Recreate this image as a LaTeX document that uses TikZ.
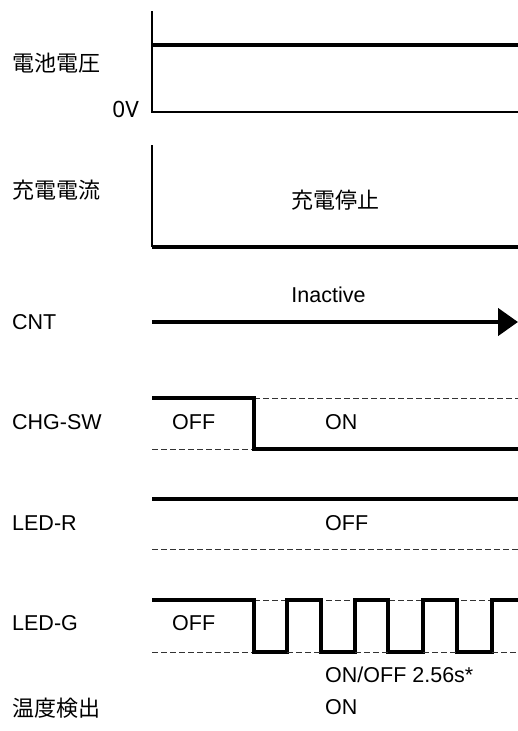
\documentclass[tikz,border=0pt]{standalone}
\usepackage{fontspec}
\setmainfont{Liberation Sans}
\newfontfamily\jp{Noto Sans CJK JP}
\newfontfamily\nsans{Noto Sans}
\usetikzlibrary{arrows.meta}
\begin{document}
\begin{tikzpicture}[x=1pt,y=-1pt,
  lbl/.style={anchor=west,inner sep=0pt,font=\fontsize{21.5}{24}\selectfont},
  jlbl/.style={anchor=west,inner sep=0pt,font=\jp\fontsize{22}{24}\selectfont},
  val/.style={anchor=west,inner sep=0pt,font=\fontsize{21.5}{24}\selectfont},
  axisline/.style={line width=2pt},
  sig/.style={line width=4.3pt,miter limit=10},
  ref/.style={line width=1pt,dash pattern=on 6pt off 3pt,black!80}]
\useasboundingbox (0,0) rectangle (518,731);
% coordinates
\coordinate (a1t) at (152,11); \coordinate (a1b) at (152,112); \coordinate (a1r) at (518,112);
\coordinate (bvl) at (152,45); \coordinate (bvr) at (518,45);
\coordinate (a2t) at (152,145); \coordinate (a2b) at (152,247); \coordinate (a2r) at (518,247);
\coordinate (cntl) at (152,322); \coordinate (cntr) at (518,322);
% labels
\node[jlbl] (lv) at (12,63) {電池電圧};
\node[anchor=east,inner sep=0pt,font=\nsans\fontsize{22.5}{24}\selectfont] (zv) at (139,109) {0V};
\node[jlbl] (lc) at (12,190) {充電電流};
\node[anchor=center,inner sep=0pt,font=\jp\fontsize{22}{24}\selectfont] (stop) at (335,200.5) {充電停止};
\node[lbl] (lcnt) at (12,322) {CNT};
\node[anchor=center,inner sep=0pt,font=\fontsize{21.5}{24}\selectfont] (inact) at (328.5,295) {Inactive};
\node[lbl] (lsw) at (12,422) {CHG-SW};
\node[val] (swoff) at (172,422) {OFF};
\node[val] (swon) at (325,422) {ON};
\node[lbl] (lr) at (12,523) {LED-R};
\node[val] (roff) at (325,523) {OFF};
\node[lbl] (lg) at (12,623) {LED-G};
\node[val] (goff) at (172,623) {OFF};
\node[val] (gper) at (325,675) {ON/OFF 2.56s*};
\node[jlbl] (lt) at (12,708) {温度検出};
\node[val] (ton) at (325,707) {ON};
% battery voltage
\draw[axisline] (a1t) -- (a1b) -- (a1r);
\draw[sig] (bvl) -- (bvr);
% charge current
\draw[axisline] (a2t) -- (a2b);
\draw[sig] (a2b) -- (a2r);
% CNT
\draw[line width=4.5pt,-{Triangle[length=20pt,width=27pt]}] (cntl) -- (cntr);
% CHG-SW
\draw[ref] (254,398) -- (518,398);
\draw[ref] (152,449) -- (254,449);
\draw[sig] (152,398) -- (254,398) -- (254,449) -- (518,449);
% LED-R
\draw[sig] (152,499) -- (518,499);
\draw[ref] (152,549) -- (518,549);
% LED-G
\draw[ref] (254,600) -- (518,600);
\draw[ref] (152,652) -- (254,652);
\draw[sig] (152,600) -- (254,600) -- (254,652) -- (287,652) -- (287,600)
  -- (321,600) -- (321,652) -- (355,652) -- (355,600)
  -- (388,600) -- (388,652) -- (423,652) -- (423,600)
  -- (457,600) -- (457,652) -- (492,652) -- (492,600) -- (518,600);
\draw[ref] (287,652) -- (321,652);
\draw[ref] (355,652) -- (388,652);
\draw[ref] (423,652) -- (457,652);
\draw[ref] (492,652) -- (518,652);
\end{tikzpicture}
\end{document}
